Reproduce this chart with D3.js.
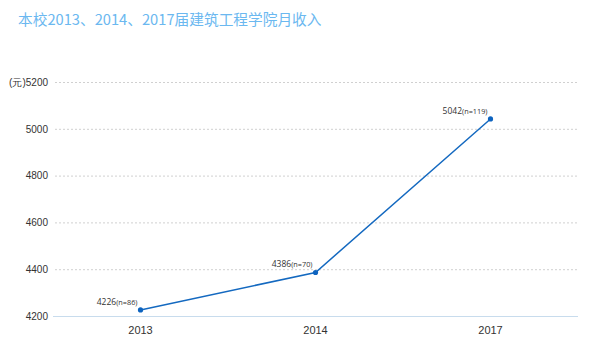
<!DOCTYPE html>
<html><head><meta charset="utf-8">
<script src="https://cdn.jsdelivr.net/npm/d3@7"></script>
<style>body{margin:0;background:#fff;}svg{display:block;font-family:"Open Sans","Noto Sans","Noto Sans CJK SC",sans-serif;}</style>
</head><body>
<script>
const categories = ["2013", "2014", "2017"];
const values = [4226, 4386, 5042];
const counts = [86, 70, 119];
const yTicks = [4200, 4400, 4600, 4800, 5000, 5200];
const title = "本校2013、2014、2017届建筑工程学院月收入";
const unit = "(元)";

const W = 590, H = 355;
const m = {l: 53, r: 12, t: 82, b: 39};
const svg = d3.select("body").append("svg").attr("width", W).attr("height", H);

svg.append("text").attr("x", 18).attr("y", 25).attr("fill", "#6bb8f0")
  .style("font-size", "14.7px").style("font-family", "'Noto Sans CJK SC','Open Sans',sans-serif").text(title);

const x = d3.scaleBand().domain(categories).range([m.l, W - m.r]);
const y = d3.scaleLinear().domain([4200, 5200]).range([H - m.b, m.t]);

const g = svg.append("g");
g.selectAll("line.grid").data(yTicks.filter(d => d > 4200)).join("line")
  .attr("x1", m.l + 2).attr("x2", W - m.r).attr("y1", d => y(d) + 0.5).attr("y2", d => y(d) + 0.5)
  .attr("stroke", "#d0d0d0").attr("stroke-dasharray", "2,2");

const yAxis = d3.axisLeft(y).tickValues(yTicks).tickSize(0).tickPadding(5)
  .tickFormat(d => d === 5200 ? unit + d : d);
const ya = svg.append("g").attr("transform", `translate(${m.l},0)`).call(yAxis);
ya.select(".domain").remove();
ya.selectAll("text").attr("fill", "#333").style("font-size", "10px").attr("dy", "0.32em");

const xAxis = d3.axisBottom(x).tickSize(0).tickPadding(10);
const xa = svg.append("g").attr("transform", `translate(0,${H - m.b})`).call(xAxis);
xa.select(".domain").attr("stroke", "#c8dced").attr("d", `M${m.l},0.5H${W - m.r}`);
xa.selectAll("text").attr("fill", "#333").style("font-size", "11px");

const cx = d => x(d) + x.bandwidth() / 2;
const pts = categories.map((c, i) => ({c, v: values[i], n: counts[i]}));
svg.append("path").datum(pts)
  .attr("d", d3.line().x(d => cx(d.c)).y(d => y(d.v)))
  .attr("fill", "none").attr("stroke", "#1469c0").attr("stroke-width", 1.5);
svg.selectAll("circle.pt").data(pts).join("circle")
  .attr("cx", d => cx(d.c)).attr("cy", d => y(d.v)).attr("r", 2.6).attr("fill", "#0d63bf");

const lab = svg.selectAll("text.lab").data(pts).join("text")
  .attr("x", d => cx(d.c) - 3).attr("y", d => y(d.v) - 5)
  .attr("text-anchor", "end").attr("fill", "#333");
lab.append("tspan").style("font-size", "8.5px").text(d => d.v);
lab.append("tspan").style("font-size", "7.3px").text(d => `(n=${d.n})`);
</script>
</body></html>
